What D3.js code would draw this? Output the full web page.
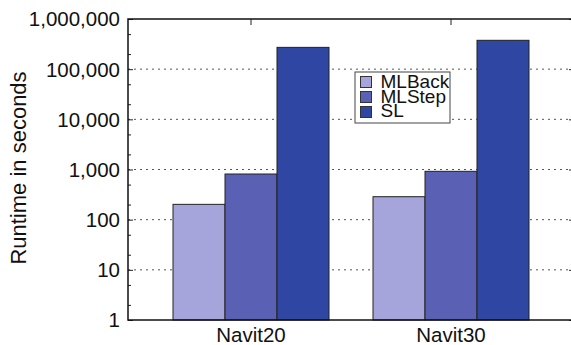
<!DOCTYPE html>
<html>
<head>
<meta charset="utf-8">
<script src="https://cdn.jsdelivr.net/npm/d3@7/dist/d3.min.js"></script>
<style>
html,body{margin:0;padding:0;background:#fff;}
svg{display:block;font-family:"Liberation Sans",Arial,sans-serif;}
</style>
</head>
<body>
<svg id="chart" width="571" height="345"></svg>
<script>
const categories = ["Navit20", "Navit30"];
const seriesNames = ["MLBack", "MLStep", "SL"];
const MLBack = [202, 287];
const MLStep = [813, 920];
const SL = [272000, 376000];
const yTickValues = [1, 10, 100, 1000, 10000, 100000, 1000000];
const yTickLabels = ["1", "10", "100", "1,000", "10,000", "100,000", "1,000,000"];
const colors = ["#a5a5dc", "#5a60b3", "#3046a3"];

const seriesValues = [MLBack, MLStep, SL];
const svg = d3.select("#chart");
const L = 128, R = 574, T = 19, B = 320;

const x = d3.scaleBand().domain(categories).range([L, R]).paddingInner(0.22).paddingOuter(0.225);
const xs = d3.scaleBand().domain(seriesNames).range([0, x.bandwidth()]);
const y = d3.scaleLog().domain([1, 1e6]).range([B, T]);

// gridlines
svg.append("g").selectAll("line").data(yTickValues.slice(1, -1)).join("line")
  .attr("x1", L).attr("x2", R).attr("y1", d => y(d)).attr("y2", d => y(d))
  .attr("stroke", "#555").attr("stroke-width", 1).attr("stroke-dasharray", "2,4");

// bars
const rows = [];
categories.forEach((c, i) => seriesNames.forEach((s, j) => rows.push({c, s, j, v: seriesValues[j][i]})));
svg.append("g").selectAll("rect").data(rows).join("rect")
  .attr("x", d => x(d.c) + xs(d.s))
  .attr("width", xs.bandwidth())
  .attr("y", d => y(d.v))
  .attr("height", d => B - y(d.v))
  .attr("fill", d => colors[d.j])
  .attr("stroke", "#222").attr("stroke-width", 1);

// minor ticks values
const minor = [];
for (let e = 0; e < 6; e++) { minor.push(2 * 10 ** e, 5 * 10 ** e); }

// left axis
const leftAxis = svg.append("g").attr("transform", `translate(${L},0)`);
leftAxis.call(d3.axisRight(y).tickValues(yTickValues).tickFormat("").tickSize(5).tickSizeOuter(0));
leftAxis.append("g").call(d3.axisRight(y).tickValues(minor).tickFormat("").tickSize(3).tickSizeOuter(0));
leftAxis.selectAll("path.domain").remove();
leftAxis.selectAll("line").attr("stroke", "#222");
svg.append("g").selectAll("text").data(yTickValues).join("text")
  .attr("x", L - 8).attr("y", d => y(d)).attr("dy", "0.36em")
  .attr("text-anchor", "end").attr("font-size", 20.5).attr("fill", "#111")
  .text((d, i) => yTickLabels[i]);

// right axis
const rightAxis = svg.append("g").attr("transform", `translate(${R},0)`);
rightAxis.call(d3.axisLeft(y).tickValues(yTickValues).tickFormat("").tickSize(5).tickSizeOuter(0));
rightAxis.append("g").call(d3.axisLeft(y).tickValues(minor).tickFormat("").tickSize(3).tickSizeOuter(0));
rightAxis.selectAll("path.domain").remove();
rightAxis.selectAll("line").attr("stroke", "#222");

// top ticks
const topAxis = svg.append("g").attr("transform", `translate(0,${T})`);
topAxis.call(d3.axisBottom(x).tickFormat("").tickSize(6).tickSizeOuter(0));
topAxis.selectAll("path.domain").remove();
topAxis.selectAll("line").attr("stroke", "#222");

// bottom axis labels
const bottomAxis = svg.append("g").attr("transform", `translate(0,${B})`);
bottomAxis.call(d3.axisBottom(x).tickSize(0).tickPadding(7.5).tickSizeOuter(0));
bottomAxis.selectAll("path.domain").remove();
bottomAxis.selectAll("text").attr("font-size", 20.5).attr("fill", "#111").attr("font-family", "Liberation Sans, Arial, sans-serif");

// frame
svg.append("rect").attr("x", L).attr("y", T).attr("width", R - L).attr("height", B - T)
  .attr("fill", "none").attr("stroke", "#111").attr("stroke-width", 1.5);

// y title
svg.append("text").attr("transform", `translate(26,168) rotate(-90)`)
  .attr("text-anchor", "middle").attr("font-size", 22).attr("fill", "#111")
  .text("Runtime in seconds");

// legend
const lg = svg.append("g").attr("transform", "translate(355,72)");
lg.append("rect").attr("width", 95).attr("height", 51).attr("fill", "#fff").attr("stroke", "#444").attr("stroke-width", 1);
seriesNames.forEach((s, i) => {
  lg.append("rect").attr("x", 5.5).attr("y", 4.5 + i * 15).attr("width", 11).attr("height", 11)
    .attr("fill", colors[i]).attr("stroke", "#333").attr("stroke-width", 1);
  lg.append("text").attr("x", 25.5).attr("y", 16 + i * 14.5).attr("font-size", 19).attr("fill", "#111").text(s);
});
</script>
</body>
</html>
